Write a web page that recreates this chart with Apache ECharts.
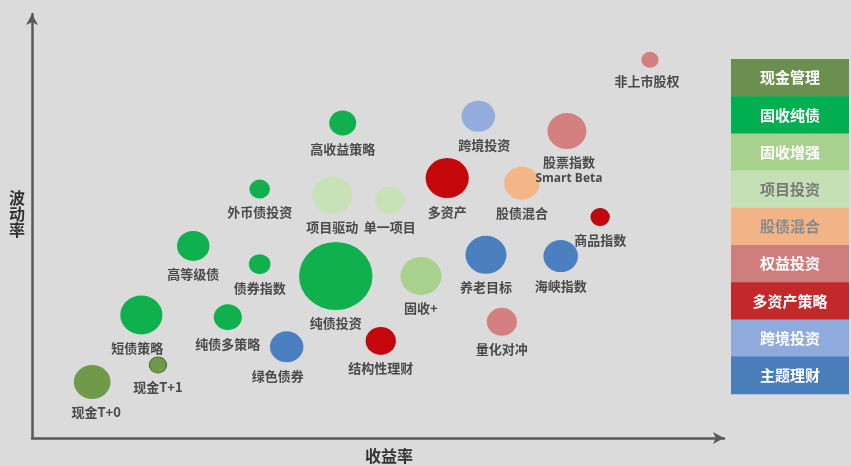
<!DOCTYPE html>
<html><head><meta charset="utf-8">
<script src="https://cdn.jsdelivr.net/npm/echarts@6/dist/echarts.min.js"></script>
<style>html,body{margin:0;padding:0;background:#dbdbdb}#c{width:851px;height:466px}</style>
</head><body><div id="c"></div>
<script>
// Categories (legend)
const categories = ['现金管理','固收纯债','固收增强','项目投资','股债混合','权益投资','多资产策略','跨境投资','主题理财'];
const categoryColors = ['#6f9a4a','#10b04e','#a9d18e','#c8e2b8','#f4b587','#d48081','#c3070b','#93acdc','#4a80c0'];
const legendBoxColors = ['#6b8f4f','#00b050','#a9d18e','#c5e0b4','#f2b387','#cf7d7d','#c3282a','#8faadc','#4a7ebb'];
const legendTextColors = ['#ffffff','#ffffff','#ffffff','#7a7a7a','#8a8a8a','#ffffff','#ffffff','#ffffff','#ffffff'];

// Products
const productNames = ['现金T+0','现金T+1','短债策略','纯债多策略','高等级债','债券指数','外币债投资','高收益策略','纯债投资','项目驱动','单一项目','固收+','多资产','跨境投资','股票指数\nSmart Beta','股债混合','商品指数','养老目标','海峡指数','量化对冲','结构性理财','绿色债券','非上市股权'];
const productCategory = [0,0,1,1,1,1,1,1,1,3,3,2,6,7,5,4,6,8,8,5,6,8,5];
const returnValues    = [8.7,18.2,15.8,28.3,23.3,32.9,32.9,44.9,43.9,43.4,51.7,56.2,60.0,64.5,77.3,70.8,82.1,65.6,76.4,67.9,50.4,36.8,89.3];
const volatilityValues= [13.2,17.2,29.0,28.5,45.3,41.0,58.7,74.3,38.2,57.3,56.1,38.2,61.3,75.9,72.4,60.1,52.1,43.2,42.9,27.4,22.9,21.5,89.2];
const bubbleSizes     = [34,16,39,26,30,20,19,25,68,37,27,38,40,31,36,33,17,38,32,28,28,31,16];

// Axis titles
const xAxisTitle = '收益率';
const yAxisTitle = '波动率';

const labelOffsets = {'绿色债券':[-9,0],'跨境投资':[6,0],'现金T+0':[4,0],'短债策略':[-4,0],'非上市股权':[-3,0],'股票指数\nSmart Beta':[2,0]};
const borderStyles = {'现金T+1':{borderColor:'#4b6b3a',borderWidth:1},'商品指数':{borderColor:'#9c1515',borderWidth:1}};

const series = categories.map((cat, ci) => {
  const data = [];
  productNames.forEach((n, i) => {
    if (productCategory[i] !== ci) return;
    const item = { name: n, value: [returnValues[i], volatilityValues[i], bubbleSizes[i]] };
    const off = labelOffsets[n];
    if (off) item.label = { offset: off };
    if (borderStyles[n]) item.itemStyle = borderStyles[n];
    data.push(item);
  });
  return {
    name: cat,
    type: 'scatter',
    data,
    symbolSize: v => [v[2] * 1.08, v[2]],
    itemStyle: { color: categoryColors[ci], opacity: 1 },
    label: {
      show: true,
      position: 'bottom',
      distance: 5,
      formatter: p => {
        const parts = p.name.split('\n');
        return parts.length > 1 ? '{a|' + parts[0] + '}\n{b|' + parts[1] + '}' : '{a|' + parts[0] + '}';
      },
      rich: {
        a: { fontFamily: 'Noto Sans CJK SC', fontSize: 13, fontWeight: 'bold', color: '#4a4a4a', lineHeight: 17 },
        b: { fontFamily: 'Open Sans', fontSize: 12, fontWeight: 'bold', color: '#4a4a4a', lineHeight: 16 }
      }
    },
    emphasis: { disabled: true }
  };
});

const graphics = [];
const boxTop = 59, boxH = 37.2;
categories.forEach((cat, i) => {
  graphics.push({
    type: 'rect', x: 731, y: boxTop + i * boxH,
    shape: { x: 0, y: 0, width: 118, height: boxH + 0.5 },
    style: { fill: legendBoxColors[i] }, silent: true
  });
  graphics.push({
    type: 'text', x: 731 + 59, y: boxTop + i * boxH + boxH / 2,
    style: {
      text: cat, align: 'center', verticalAlign: 'middle',
      fill: legendTextColors[i], font: 'bold 15px "Noto Sans CJK SC"'
    },
    silent: true
  });
});
// vertical y-axis title
graphics.push({
  type: 'text', x: 17, y: 214,
  style: {
    text: yAxisTitle.split('').join('\n'), align: 'center', verticalAlign: 'middle',
    fill: '#333', font: 'bold 16px "Noto Sans CJK SC"', lineHeight: 16
  },
  silent: true
});

const chart = echarts.init(document.getElementById('c'), null, { renderer: 'canvas' });
chart.setOption({
  backgroundColor: '#dbdbdb',
  animation: false,
  grid: { left: 32, right: 127, top: 14, bottom: 28, containLabel: false, outerBoundsMode: 'none' },
  xAxis: {
    type: 'value', min: 0, max: 100,
    name: xAxisTitle, nameLocation: 'middle', nameGap: 10,
    nameTextStyle: { fontFamily: 'Noto Sans CJK SC', fontSize: 16, fontWeight: 'bold', color: '#333', padding: [0, 0, 0, 22] },
    axisLine: { show: true, symbol: ['none', 'arrow'], symbolSize: [9, 11], lineStyle: { color: '#5a5a5a', width: 2.5 } },
    axisTick: { show: false }, axisLabel: { show: false }, splitLine: { show: false }
  },
  yAxis: {
    type: 'value', min: 0, max: 100,
    axisLine: { show: true, symbol: ['none', 'arrow'], symbolSize: [9, 11], lineStyle: { color: '#5a5a5a', width: 2.5 } },
    axisTick: { show: false }, axisLabel: { show: false }, splitLine: { show: false }
  },
  legend: { show: false },
  series,
  graphic: graphics
});
</script>
</body></html>
